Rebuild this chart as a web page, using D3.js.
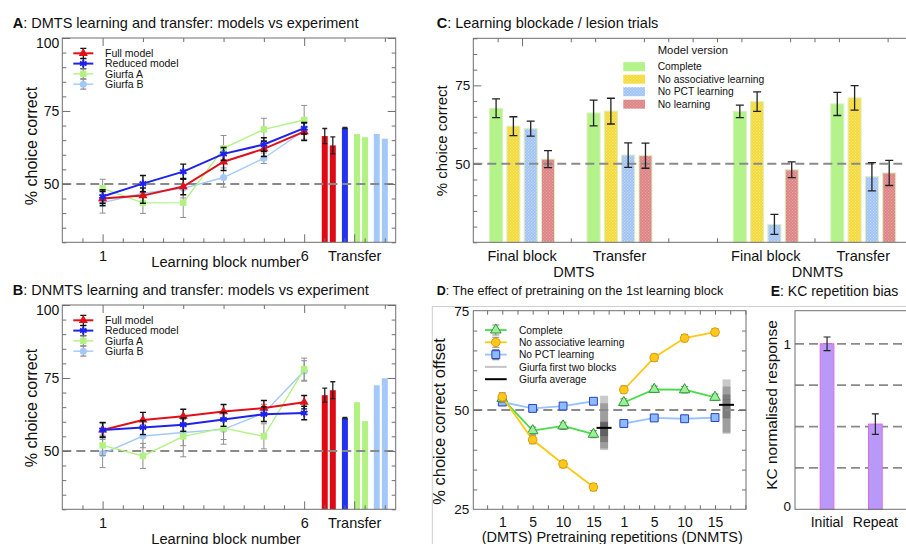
<!DOCTYPE html>
<html>
<head>
<meta charset="utf-8">
<script src="https://cdn.jsdelivr.net/npm/d3@7"></script>
<style>
body { margin: 0; background: #fff; }
svg { display: block; }
text { font-family: "Liberation Sans", Arial, sans-serif; fill: #111; }
</style>
</head>
<body>
<svg id="fig" width="906" height="544"></svg>
<script>
// ---------- data ----------
var blockNums = [1, 2, 3, 4, 5, 6];

// A : DMTS learning
var dmtsFull = [45.0, 46.0, 49.1, 57.6, 62.0, 67.9];
var dmtsFullErr = [2.5, 2.6, 2.8, 3.0, 2.6, 3.0];
var dmtsReduced = [45.7, 50.1, 54.2, 60.3, 63.5, 69.1];
var dmtsReducedErr = [2.3, 2.8, 2.6, 2.2, 2.3, 2.0];
var dmtsGiurfaA = [48.5, 43.5, 43.6, 62.2, 68.7, 71.9];
var dmtsGiurfaAErr = [3.1, 3.6, 5.1, 4.4, 3.8, 5.0];
var dmtsGiurfaB = [43.6, 46.8, 48.5, 52.2, 58.8, 68.3];
var dmtsGiurfaBErr = [3.6, 3.4, 3.3, 3.3, 1.8, 3.0];
var dmtsTransferFull = [66.4, 63.2];
var dmtsTransferFullErr = [2.6, 2.9];
var dmtsTransferReduced = [69.2];
var dmtsTransferGiurfaA = [67.1, 66.0];
var dmtsTransferGiurfaB = [67.1, 65.5];

// B : DNMTS learning
var dnmtsFull = [57.2, 60.6, 61.9, 63.5, 64.7, 66.7];
var dnmtsFullErr = [2.6, 2.6, 2.4, 2.4, 2.6, 2.3];
var dnmtsReduced = [57.2, 58.0, 59.0, 60.8, 62.6, 63.0];
var dnmtsReducedErr = [2.4, 2.4, 2.3, 2.4, 2.5, 2.3];
var dnmtsGiurfaA = [51.9, 48.3, 55.0, 57.8, 55.0, 78.0];
var dnmtsGiurfaAErr = [3.5, 4.3, 7.0, 5.5, 4.3, 3.8];
var dnmtsGiurfaB = [49.1, 55.1, 56.3, 57.4, 63.0, 77.4];
var dnmtsGiurfaBErr = [4.8, 4.0, 4.5, 3.5, 3.0, 3.5];
var dnmtsTransferFull = [69.1, 70.8];
var dnmtsTransferFullErr = [2.4, 2.9];
var dnmtsTransferReduced = [61.3];
var dnmtsTransferGiurfaA = [66.7, 60.2];
var dnmtsTransferGiurfaB = [72.5, 74.9];

var learnLegend = ["Full model", "Reduced model", "Giurfa A", "Giurfa B"];

// C : lesion trials
var cTasks = ["DMTS", "DNMTS"];
var cConditions = ["Final block", "Transfer", "Final block", "Transfer"];
var cVersions = ["Complete", "No associative learning", "No PCT learning", "No learning"];
var cComplete = [67.7, 66.2, 66.7, 69.1];
var cCompleteErr = [3.0, 4.1, 2.0, 3.7];
var cNoAssoc = [62.0, 66.8, 69.8, 71.0];
var cNoAssocErr = [3.0, 4.1, 3.1, 3.9];
var cNoPct = [61.2, 52.8, 30.7, 45.9];
var cNoPctErr = [2.4, 3.9, 3.2, 4.5];
var cNoLearning = [51.5, 52.6, 48.1, 47.1];
var cNoLearningErr = [2.7, 4.0, 2.5, 4.0];

// D : pretraining
var dReps = ["1", "5", "10", "15", "1", "5", "10", "15"];
var dComplete = [52.9, 44.8, 46.0, 43.9, 51.9, 55.2, 55.1, 53.2];
var dCompleteErr = [1.0, 0.9, 0.9, 0.9, 0.9, 0.8, 0.8, 0.8];
var dNoAssoc = [53.3, 42.5, 36.4, 30.6, 55.1, 63.2, 68.1, 69.6];
var dNoAssocErr = [1.0, 1.0, 0.9, 0.9, 0.9, 0.9, 0.9, 0.9];
var dNoPct = [52.0, 50.4, 51.0, 52.2, 46.6, 48.0, 47.8, 48.1];
var dNoPctErr = [0.8, 0.7, 0.7, 0.7, 0.7, 0.7, 0.7, 0.7];
var giurfaDmtsRanges = [[43.4, 53.6], [39.9, 47.1], [40.3, 46.9], [41.9, 51.7]];
var giurfaDnmtsRanges = [[52.5, 57.7], [47.9, 55.9], [44.3, 53.9], [44.0, 52.6]];
var giurfaAvg = [45.5, 51.3];
var dLegend = ["Complete", "No associative learning", "No PCT learning", "Giurfa first two blocks", "Giurfa average"];

// E : KC repetition bias
var eLabels = ["Initial", "Repeat"];
var eValues = [1.0, 0.515];
var eErr = [0.041, 0.062];

// ---------- colours ----------
var RED = "#e0101a", BLUE = "#1e22ea", LGREEN = "#b2f283", LBLUE = "#a4c9f8";
var AXIS = "#6f6f6f", DASH = "#8a8a8a";

var svg = d3.select("#fig");
var defs = svg.append("defs");

function dotPattern(id, base, dot) {
	var p = defs.append("pattern").attr("id", id)
		.attr("width", 3).attr("height", 3).attr("patternUnits", "userSpaceOnUse");
	p.append("rect").attr("width", 3).attr("height", 3).attr("fill", base);
	p.append("rect").attr("x", 0).attr("y", 0).attr("width", 1.2).attr("height", 1.2).attr("fill", dot);
	p.append("rect").attr("x", 1.5).attr("y", 1.5).attr("width", 1.2).attr("height", 1.2).attr("fill", dot);
}
dotPattern("patYellow", "#f3d835", "#fbe97a");
dotPattern("patBlue", "#9ec1f3", "#c6dbfb");
dotPattern("patRed", "#dc8282", "#e9a4a4");

// ---------- helpers ----------
function cleanAxis(sel) {
	sel.attr("font-size", null).attr("font-family", null);
	sel.select(".domain").remove();
	sel.selectAll(".tick line").attr("stroke", AXIS);
}

// inward tick marks on one side of a frame
function ticks(g, axisFn, scale, values, len, tx, ty) {
	g.append("g").attr("transform", "translate(" + tx + "," + ty + ")")
		.call(axisFn(scale).tickValues(values).tickSize(-len).tickFormat(""))
		.call(cleanAxis);
}

function frame(g, x0, y0, x1, y1) {
	g.append("rect").attr("x", x0).attr("y", y0)
		.attr("width", x1 - x0).attr("height", y1 - y0)
		.attr("fill", "none").attr("stroke", AXIS).attr("stroke-width", 1);
}

function chanceLine(g, x0, x1, yy, width) {
	g.append("line").attr("x1", x0).attr("x2", x1).attr("y1", yy).attr("y2", yy)
		.attr("stroke", DASH).attr("stroke-width", width || 2).attr("stroke-dasharray", "9,5");
}

function errorBars(g, pts, x, y, color, cap, w) {
	var eb = g.append("g").attr("stroke", color).attr("stroke-width", w).attr("fill", "none");
	pts.forEach(function(p) {
		var cx = x(p.x), lo = y(p.v - p.e), hi = y(p.v + p.e);
		eb.append("path").attr("d",
			"M" + (cx - cap) + "," + hi + "H" + (cx + cap) +
			"M" + cx + "," + hi + "V" + lo +
			"M" + (cx - cap) + "," + lo + "H" + (cx + cap));
	});
}

function title(x, y, letter, rest, size) {
	var t = svg.append("text").attr("x", x).attr("y", y).style("font-size", size + "px");
	t.append("tspan").attr("font-weight", "bold").text(letter);
	t.append("tspan").text(rest);
}

function yLabel(x, y, txt, size) {
	svg.append("text").attr("transform", "translate(" + x + "," + y + ") rotate(-90)")
		.attr("text-anchor", "middle").style("font-size", size + "px").text(txt);
}

// ---------- A / B : learning curves ----------
function drawLearning(cfg) {
	var g = svg.append("g");
	var x = d3.scaleLinear().domain([0, 8.27]).range([62.3, 395.7]);
	var y = d3.scaleLinear().domain([30, 100]).range([cfg.bottom, cfg.top]);
	var x0 = x.range()[0], x1 = x.range()[1];

	// transfer bars
	var groups = [
		{ vals: cfg.tFull, err: cfg.tFullErr, c: "#e00a14", pos: 6.61 },
		{ vals: cfg.tReduced, err: [0.2], c: "#2232ee", pos: 7.01 },
		{ vals: cfg.tGA, err: null, c: LGREEN, pos: 7.41 },
		{ vals: cfg.tGB, err: null, c: LBLUE, pos: 7.90 }
	];
	groups.forEach(function(gr) {
		var n = gr.vals.length;
		gr.vals.forEach(function(v, i) {
			var p = gr.pos + (n === 1 ? 0 : (i - 0.5) * 0.2);
			g.append("rect").attr("x", x(p) - 3).attr("width", 6)
				.attr("y", y(v)).attr("height", y(30) - y(v)).attr("fill", gr.c);
			if (gr.err) {
				errorBars(g, [{ x: p, v: v, e: gr.err[i] }], x, y, "#222", 2.5, 1.3);
			}
		});
	});

	chanceLine(g, x0, x1, y(50));

	var full = { vals: cfg.full, err: cfg.fullErr, c: RED, lw: 2, sym: d3.symbolTriangle, size: 36, ec: "#111" };
	var reduced = { vals: cfg.reduced, err: cfg.reducedErr, c: BLUE, lw: 2, sym: d3.symbolAsterisk, size: 40, ec: "#111", stroke: true };
	var gA = { vals: cfg.gA, err: cfg.gAErr, c: LGREEN, lw: 1.4, sym: d3.symbolSquare, size: 42, ec: "#8f8f8f" };
	var gB = { vals: cfg.gB, err: cfg.gBErr, c: LBLUE, lw: 1.4, sym: d3.symbolCircle, size: 40, ec: "#8f8f8f" };

	var line = d3.line().x(function(d) { return x(d.x); }).y(function(d) { return y(d.v); });
	[gB, gA, full, reduced].forEach(function(s) {
		var pts = blockNums.map(function(b, i) { return { x: b, v: s.vals[i], e: s.err[i] }; });
		g.append("path").datum(pts).attr("fill", "none").attr("stroke", s.c)
			.attr("stroke-width", s.lw).attr("d", line);
		errorBars(g, pts, x, y, s.ec, 3, s.ec === "#111" ? 1.4 : 1);
		g.selectAll(null).data(pts).enter().append("path")
			.attr("transform", function(d) { return "translate(" + x(d.x) + "," + y(d.v) + ")"; })
			.attr("d", d3.symbol().type(s.sym).size(s.size))
			.attr("fill", s.stroke ? "none" : s.c)
			.attr("stroke", s.stroke ? s.c : "none").attr("stroke-width", 2);
	});

	// ticks and frame
	var yt = d3.range(30, 101, 5);
	ticks(g, d3.axisLeft, y, yt.filter(function(v) { return v % 25 !== 0; }), 4, x0, 0);
	ticks(g, d3.axisLeft, y, [50, 75, 100], 8, x0, 0);
	ticks(g, d3.axisRight, y, yt.filter(function(v) { return v % 25 !== 0; }), 4, x1, 0);
	ticks(g, d3.axisRight, y, [50, 75, 100], 8, x1, 0);
	ticks(g, d3.axisTop, x, [2, 3, 4, 5, 7, 8], 4, 0, cfg.top);
	ticks(g, d3.axisTop, x, [1, 6], 8, 0, cfg.top);
	ticks(g, d3.axisBottom, x, d3.range(0.5, 8.1, 0.5).filter(function(v) { return v !== 1 && v !== 6; }), 4, 0, cfg.bottom);
	ticks(g, d3.axisBottom, x, [1, 6, 7.24], 8, 0, cfg.bottom);
	frame(g, x0, cfg.top, x1, cfg.bottom);

	// tick labels
	var ay = g.append("g").attr("transform", "translate(" + x0 + ",0)")
		.call(d3.axisLeft(y).tickValues([50, 75, 100]).tickSize(0).tickPadding(3))
		.call(cleanAxis);
	ay.selectAll("text").style("font-size", "14px")
		.attr("dy", function(d) { return d === 100 ? "0.7em" : "0.34em"; });
	var xNames = { 1: "1", 6: "6", 7.24: "Transfer" };
	var ax = g.append("g").attr("transform", "translate(0," + cfg.bottom + ")")
		.call(d3.axisBottom(x).tickValues([1, 6, 7.24]).tickSize(0).tickPadding(8)
			.tickFormat(function(d) { return xNames[d]; }))
		.call(cleanAxis);
	ax.selectAll("text").style("font-size", "14.5px");

	// legend
	var lg = g.append("g");
	[full, reduced, gA, gB].forEach(function(s, i) {
		var ly = cfg.top + 15.3 + i * 10.3;
		lg.append("line").attr("x1", 73.3).attr("x2", 93.3).attr("y1", ly).attr("y2", ly)
			.attr("stroke", s.c).attr("stroke-width", s.lw);
		errorBars(lg, [{ x: 83.3, v: ly, e: 5 }], function(v) { return v; },
			function(v) { return 2 * ly - v; }, s.ec, 3, 1.2);
		lg.append("path").attr("transform", "translate(83.3," + ly + ")")
			.attr("d", d3.symbol().type(s.sym).size(s.size))
			.attr("fill", s.stroke ? "none" : s.c)
			.attr("stroke", s.stroke ? s.c : "none").attr("stroke-width", 2);
		lg.append("text").attr("x", 105).attr("y", ly + 3.7).style("font-size", "10.5px")
			.text(learnLegend[i]);
	});

	yLabel(36.5, cfg.labelY, "% choice correct", 16);
	svg.append("text").attr("x", 226).attr("y", cfg.xLabelY).attr("text-anchor", "middle")
		.style("font-size", "14.7px").text("Learning block number");
}

drawLearning({
	top: 38, bottom: 242.3, labelY: 146, xLabelY: 267,
	full: dmtsFull, fullErr: dmtsFullErr, reduced: dmtsReduced, reducedErr: dmtsReducedErr,
	gA: dmtsGiurfaA, gAErr: dmtsGiurfaAErr, gB: dmtsGiurfaB, gBErr: dmtsGiurfaBErr,
	tFull: dmtsTransferFull, tFullErr: dmtsTransferFullErr, tReduced: dmtsTransferReduced,
	tGA: dmtsTransferGiurfaA, tGB: dmtsTransferGiurfaB
});
drawLearning({
	top: 305, bottom: 509.3, labelY: 408, xLabelY: 544,
	full: dnmtsFull, fullErr: dnmtsFullErr, reduced: dnmtsReduced, reducedErr: dnmtsReducedErr,
	gA: dnmtsGiurfaA, gAErr: dnmtsGiurfaAErr, gB: dnmtsGiurfaB, gBErr: dnmtsGiurfaBErr,
	tFull: dnmtsTransferFull, tFullErr: dnmtsTransferFullErr, tReduced: dnmtsTransferReduced,
	tGA: dnmtsTransferGiurfaA, tGB: dnmtsTransferGiurfaB
});

title(12.7, 27.5, "A", ": DMTS learning and transfer: models vs experiment", 14.5);
title(12.7, 295, "B", ": DNMTS learning and transfer: models vs experiment", 14.5);

// ---------- C : lesion bars ----------
(function() {
	var g = svg.append("g");
	var top = 38.3, bottom = 242.3, left = 473.3, right = 912;
	var groupPos = [1, 2, 3.5, 4.5];
	var x = d3.scaleLinear().domain([0.5, 5]).range([left, right]);
	var y = d3.scaleLinear().domain([25, 90]).range([bottom, top]);
	var fills = ["#b3f38a", "url(#patYellow)", "url(#patBlue)", "url(#patRed)"];
	var vals = [cComplete, cNoAssoc, cNoPct, cNoLearning];
	var errs = [cCompleteErr, cNoAssocErr, cNoPctErr, cNoLearningErr];
	var step = 17.3, bw = 13;

	vals.forEach(function(series, k) {
		series.forEach(function(v, gi) {
			var cx = x(groupPos[gi]) + (k - 1.5) * step;
			g.append("rect").attr("x", cx - bw / 2).attr("width", bw)
				.attr("y", y(v)).attr("height", y(25) - y(v))
				.attr("fill", fills[k]).attr("stroke", "#dcefbf").attr("stroke-width", 1);
		});
	});
	chanceLine(g, left, right, y(50));
	vals.forEach(function(series, k) {
		series.forEach(function(v, gi) {
			var cx = x(groupPos[gi]) + (k - 1.5) * step;
			errorBars(g, [{ x: cx, v: v, e: errs[k][gi] }], function(d) { return d; }, y, "#222", 4, 1.3);
		});
	});

	var yt = d3.range(25, 91, 5);
	ticks(g, d3.axisLeft, y, yt.filter(function(v) { return v !== 50 && v !== 75; }), 4, left, 0);
	ticks(g, d3.axisLeft, y, [50, 75], 8, left, 0);
	ticks(g, d3.axisTop, x, [0.75, 1.5, 1.75, 2.25, 2.5, 2.75, 3, 3.25, 3.75, 4, 4.25, 4.75], 4, 0, top);
	ticks(g, d3.axisTop, x, [1], 8, 0, top);
	ticks(g, d3.axisBottom, x, [1.5, 2.5, 3, 4, 5], 4, 0, bottom);
	frame(g, left, top, right, bottom);

	var ay = g.append("g").attr("transform", "translate(" + left + ",0)")
		.call(d3.axisLeft(y).tickValues([50, 75]).tickSize(0).tickPadding(3))
		.call(cleanAxis);
	ay.selectAll("text").style("font-size", "13.5px");

	g.selectAll(null).data(cConditions).enter().append("text")
		.attr("x", function(d, i) { return x(groupPos[i]); }).attr("y", 261)
		.attr("text-anchor", "middle").style("font-size", "14.5px")
		.text(function(d) { return d; });
	g.selectAll(null).data(cTasks).enter().append("text")
		.attr("x", function(d, i) { return x((groupPos[2 * i] + groupPos[2 * i + 1]) / 2) + 3; })
		.attr("y", 276.5).attr("text-anchor", "middle").style("font-size", "14.5px")
		.text(function(d) { return d; });

	// legend
	g.append("text").attr("x", 657.7).attr("y", 54).style("font-size", "11.3px").text("Model version");
	cVersions.forEach(function(name, k) {
		var ly = 66.7 + k * 12.5;
		g.append("rect").attr("x", 623.3).attr("y", ly - 4.5).attr("width", 21.7).attr("height", 9)
			.attr("fill", fills[k]);
		g.append("text").attr("x", 657.7).attr("y", ly + 3.6).style("font-size", "10.3px").text(name);
	});

	yLabel(446.5, 140.8, "% choice correct", 15);
})();
title(436.7, 27.5, "C", ": Learning blockade / lesion trials", 14.5);

// ---------- D : pretraining ----------
svg.append("rect").attr("x", 432.3).attr("y", 306.5).attr("width", 520).attr("height", 300)
	.attr("fill", "none").attr("stroke", "#cfcfcf").attr("stroke-width", 1);

(function() {
	var g = svg.append("g");
	var top = 310.7, bottom = 509.3, left = 473.3, right = 746;
	var x = d3.scaleLinear().domain([-0.954, 8.02]).range([left, right]);
	var y = d3.scaleLinear().domain([25, 75]).range([bottom, top]);
	var giurfaPos = [3.35, 7.38];

	// Giurfa shaded ranges
	[giurfaDmtsRanges, giurfaDnmtsRanges].forEach(function(ranges, j) {
		ranges.forEach(function(r) {
			g.append("rect").attr("x", x(giurfaPos[j]) - 4).attr("width", 8)
				.attr("y", y(r[1])).attr("height", y(r[0]) - y(r[1]))
				.attr("fill", "#000").attr("fill-opacity", 0.21);
		});
		g.append("line").attr("x1", x(giurfaPos[j]) - 7.5).attr("x2", x(giurfaPos[j]) + 7.5)
			.attr("y1", y(giurfaAvg[j])).attr("y2", y(giurfaAvg[j]))
			.attr("stroke", "#000").attr("stroke-width", 2);
	});

	chanceLine(g, left, right, y(50));

	var noPct = { vals: dNoPct, err: dNoPctErr, c: "#99c3fb", sym: d3.symbolSquare, size: 62, fill: "#8bbcfb", st: "#2b3fc4" };
	var complete = { vals: dComplete, err: dCompleteErr, c: "#47dc47", sym: d3.symbolTriangle, size: 48, fill: "#9cef9c", st: "#2f9a2f" };
	var noAssoc = { vals: dNoAssoc, err: dNoAssocErr, c: "#ffc814", sym: d3.symbolCircle, size: 58, fill: "#ffc81a", st: "#e09a00" };

	var line = d3.line().x(function(d) { return x(d.x); }).y(function(d) { return y(d.v); });
	[noPct, complete, noAssoc].forEach(function(s) {
		var pts = s.vals.map(function(v, i) { return { x: i, v: v, e: s.err[i] }; });
		[pts.slice(0, 4), pts.slice(4)].forEach(function(seg) {
			g.append("path").datum(seg).attr("fill", "none").attr("stroke", s.c)
				.attr("stroke-width", 1.8).attr("d", line);
		});
		errorBars(g, pts, x, y, "#8c8c8c", 3.5, 1.1);
		g.selectAll(null).data(pts).enter().append("path")
			.attr("transform", function(d) { return "translate(" + x(d.x) + "," + y(d.v) + ")"; })
			.attr("d", d3.symbol().type(s.sym).size(s.size))
			.attr("fill", s.fill).attr("stroke", s.st).attr("stroke-width", 1);
	});

	ticks(g, d3.axisLeft, y, [30, 35, 40, 45, 55, 60, 65, 70], 4, left, 0);
	ticks(g, d3.axisLeft, y, [50], 8, left, 0);
	ticks(g, d3.axisRight, y, [30, 35, 40, 45, 55, 60, 65, 70], 4, right, 0);
	ticks(g, d3.axisRight, y, [50], 8, right, 0);
	var xt = d3.range(-0.5, 8.01, 0.5);
	ticks(g, d3.axisTop, x, xt, 4, 0, top);
	ticks(g, d3.axisBottom, x, xt, 4, 0, bottom);
	frame(g, left, top, right, bottom);

	var ay = g.append("g").attr("transform", "translate(" + left + ",0)")
		.call(d3.axisLeft(y).tickValues([25, 50, 75]).tickSize(0).tickPadding(4))
		.call(cleanAxis);
	ay.selectAll("text").style("font-size", "13.5px");
	var ax = g.append("g").attr("transform", "translate(0," + bottom + ")")
		.call(d3.axisBottom(x).tickValues(d3.range(8)).tickSize(0).tickPadding(8)
			.tickFormat(function(d) { return dReps[d]; }))
		.call(cleanAxis);
	ax.selectAll("text").style("font-size", "14px");
	svg.append("text").attr("x", 481.7).attr("y", 541.5).style("font-size", "14.5px")
		.text("(DMTS) Pretraining repetitions (DNMTS)");

	// legend
	var lg = g.append("g");
	var legendSeries = [complete, noAssoc, noPct];
	dLegend.forEach(function(name, i) {
		var ly = 330 + i * 12.3;
		if (i < 3) {
			var s = legendSeries[i];
			lg.append("line").attr("x1", 485).attr("x2", 506.7).attr("y1", ly).attr("y2", ly)
				.attr("stroke", s.c).attr("stroke-width", 1.8);
			errorBars(lg, [{ x: 495.8, v: ly, e: 5 }], function(v) { return v; },
				function(v) { return 2 * ly - v; }, "#8c8c8c", 3.5, 1.1);
			lg.append("path").attr("transform", "translate(495.8," + ly + ")")
				.attr("d", d3.symbol().type(s.sym).size(s.size))
				.attr("fill", s.fill).attr("stroke", s.st).attr("stroke-width", 1);
		} else {
			lg.append("line").attr("x1", 485).attr("x2", 506.7).attr("y1", ly).attr("y2", ly)
				.attr("stroke", i === 3 ? "#c4c4c4" : "#000").attr("stroke-width", 2);
		}
		lg.append("text").attr("x", 519).attr("y", ly + 3.6).style("font-size", "10.2px").text(name);
	});

	yLabel(445, 421.5, "% choice correct offset", 16.5);
})();
title(436.7, 295, "D", ": The effect of pretraining on the 1st learning block", 12.5);

// ---------- E : KC repetition bias ----------
(function() {
	var g = svg.append("g");
	var top = 310.7, bottom = 509.3, left = 795, right = 912;
	var x = d3.scaleBand().domain(eLabels).range([785.6, 916.8]).padding(0.716);
	var y = d3.scaleLinear().domain([0, 1.2]).range([bottom, top]);

	[0.25, 0.5, 0.75, 1].forEach(function(v) { chanceLine(g, left, right, y(v), 1.8); });

	g.selectAll(null).data(eValues).enter().append("rect")
		.attr("x", function(d, i) { return x(eLabels[i]); })
		.attr("width", x.bandwidth())
		.attr("y", function(d) { return y(d); })
		.attr("height", function(d) { return y(0) - y(d); })
		.attr("fill", "#b999f8").attr("stroke", "#e466e6").attr("stroke-width", 1);
	eValues.forEach(function(v, i) {
		var cx = x(eLabels[i]) + x.bandwidth() / 2;
		errorBars(g, [{ x: cx, v: v, e: eErr[i] }], function(d) { return d; }, y, "#222", 3.5, 1.2);
	});

	frame(g, left, top, right, bottom);

	var ay = g.append("g").attr("transform", "translate(" + left + ",0)")
		.call(d3.axisLeft(y).tickValues([0, 1]).tickSize(0).tickPadding(4).tickFormat(d3.format("d")))
		.call(cleanAxis);
	ay.selectAll("text").style("font-size", "13.5px")
		.attr("dy", function(d) { return d === 0 ? "0.1em" : "0.34em"; });
	var ax = g.append("g").attr("transform", "translate(0," + bottom + ")")
		.call(d3.axisBottom(x).tickSize(0).tickPadding(8))
		.call(cleanAxis);
	ax.selectAll("text").style("font-size", "14px");

	yLabel(776.5, 405, "KC normalised response", 15.5);
})();
title(770.7, 295.5, "E", ": KC repetition bias", 14);
</script>
</body>
</html>
